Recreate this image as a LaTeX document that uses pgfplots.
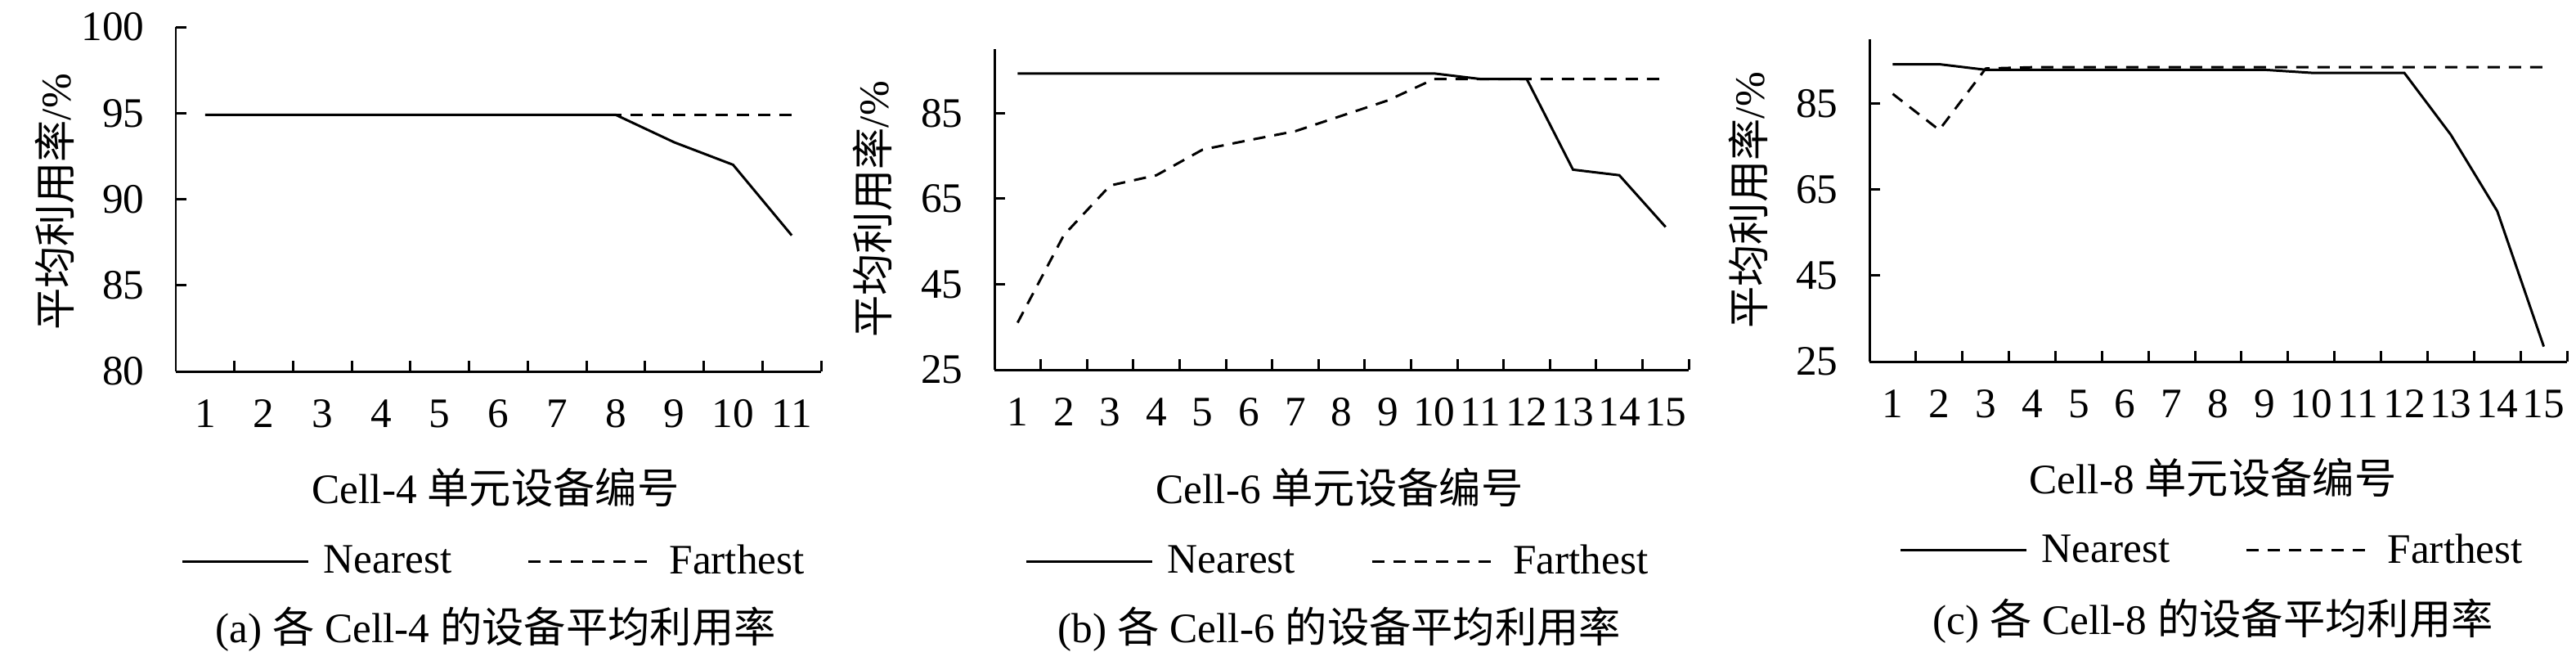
\documentclass[border=0pt]{standalone}
\usepackage{fontspec}
\setmainfont{Liberation Serif}
\newfontfamily\cjk{Noto Sans CJK SC}
\usepackage{pgfplots}
\pgfplotsset{compat=1.18}
\newcommand\fs{\fontsize{14.6pt}{17pt}\selectfont}

\pgfplotsset{
  panel/.style={
    scale only axis, anchor=south west,
    axis lines=left, axis line style={-, line width=0.85pt, black},
    tick align=inside, major tick length=0.13cm,
    tick style={line width=0.85pt, black},
    enlargelimits=false, clip=false,
    ticklabel style={font=\fs},
    yticklabel style={xshift=-0.26cm, /pgf/number format/assume math mode=true},
    xticklabels={},
    extra x tick style={major tick length=0pt, xticklabel style={yshift=-0.22cm}},
    legend columns=2,
    legend style={draw=none, fill=none, font=\fs, anchor=center, inner sep=0pt,
      /tikz/every even column/.append style={column sep=0.85cm}},
    legend image code/.code={\draw[##1] (0cm,0cm) -- (1.54cm,0cm); \path (1.64cm,0cm);},
  },
  near/.style={black, line width=0.85pt},
  far/.style={black, line width=0.85pt, dash pattern=on 0.15cm off 0.11cm},
}

\begin{document}
\begin{tikzpicture}
\path[use as bounding box] (0,0) rectangle (31.5,8.07);

% (a) Cell-4
\begin{axis}[panel, at={(2.15cm,3.53cm)}, width=7.89cm, height=4.21cm,
  xmin=0.5, xmax=11.5, ymin=80, ymax=100, ytick={80,85,90,95,100},
  xtick={1.5,2.5,...,11.5},
  extra x ticks={1,2,...,11}, extra x tick labels={1,2,3,4,5,6,7,8,9,10,11},
  legend style={at={(0.496,-0.553)}}]
\addplot[near] coordinates {(1,94.9) (2,94.9) (3,94.9) (4,94.9) (5,94.9) (6,94.9)
  (7,94.9) (8,94.9) (9,93.3) (10,92.0) (11,87.9)};
\addlegendentry{Nearest}
\addplot[far] coordinates {(1,94.9) (2,94.9) (3,94.9) (4,94.9) (5,94.9) (6,94.9)
  (7,94.9) (8,94.9) (9,94.9) (10,94.9) (11,94.9)};
\addlegendentry{Farthest}
\end{axis}

% (b) Cell-6
\begin{axis}[panel, at={(12.16cm,3.55cm)}, width=8.49cm, height=3.92cm,
  xmin=0.5, xmax=15.5, ymin=25, ymax=100, ytick={25,45,65,85},
  xtick={1.5,2.5,...,15.5},
  extra x ticks={1,2,...,15}, extra x tick labels={1,2,3,4,5,6,7,8,9,10,11,12,13,14,15},
  legend style={at={(0.497,-0.599)}}]
\addplot[near] coordinates {(1,94.3) (2,94.3) (3,94.3) (4,94.3) (5,94.3) (6,94.3)
  (7,94.3) (8,94.3) (9,94.3) (10,94.3) (11,93.0) (12,93.0) (13,71.8) (14,70.5) (15,58.4)};
\addlegendentry{Nearest}
\addplot[far] coordinates {(1,36.0) (2,56.5) (3,68.1) (4,70.5) (5,76.5) (6,78.7)
  (7,80.8) (8,84.4) (9,88.0) (10,93.0) (11,93.0) (12,93.0) (13,93.0) (14,93.0) (15,93.0)};
\addlegendentry{Farthest}
\end{axis}

% (c) Cell-8
\begin{axis}[panel, at={(22.86cm,3.65cm)}, width=8.53cm, height=3.94cm,
  xmin=0.5, xmax=15.5, ymin=25, ymax=100, ytick={25,45,65,85},
  xtick={1.5,2.5,...,15.5},
  extra x ticks={1,2,...,15}, extra x tick labels={1,2,3,4,5,6,7,8,9,10,11,12,13,14,15},
  legend style={at={(0.494,-0.586)}}]
\addplot[near] coordinates {(1,94.2) (2,94.2) (3,92.9) (4,92.9) (5,92.9) (6,92.9)
  (7,92.9) (8,92.9) (9,92.9) (10,92.2) (11,92.2) (12,92.2) (13,77.8) (14,60.0) (15,28.5)};
\addlegendentry{Nearest}
\addplot[far] coordinates {(1,87.3) (2,78.9) (3,93.2) (4,93.5) (5,93.5) (6,93.5)
  (7,93.5) (8,93.5) (9,93.5) (10,93.5) (11,93.5) (12,93.5) (13,93.5) (14,93.5) (15,93.5)};
\addlegendentry{Farthest}
\end{axis}

% axis titles and captions
\node[font=\fs, rotate=90] at (0.67,5.60) {{\cjk 平均利用率}/\%};
\node[font=\fs, rotate=90] at (10.67,5.51) {{\cjk 平均利用率}/\%};
\node[font=\fs, rotate=90] at (21.38,5.62) {{\cjk 平均利用率}/\%};

\node[font=\fs, anchor=base] at (6.06,1.92) {Cell-4 {\cjk 单元设备编号}};
\node[font=\fs, anchor=base] at (16.38,1.92) {Cell-6 {\cjk 单元设备编号}};
\node[font=\fs, anchor=base] at (27.06,2.04) {Cell-8 {\cjk 单元设备编号}};

\node[font=\fs, anchor=base] at (6.06,0.22) {(a) {\cjk 各} Cell-4 {\cjk 的设备平均利用率}};
\node[font=\fs, anchor=base] at (16.38,0.22) {(b) {\cjk 各} Cell-6 {\cjk 的设备平均利用率}};
\node[font=\fs, anchor=base] at (27.06,0.32) {(c) {\cjk 各} Cell-8 {\cjk 的设备平均利用率}};
\end{tikzpicture}
\end{document}
